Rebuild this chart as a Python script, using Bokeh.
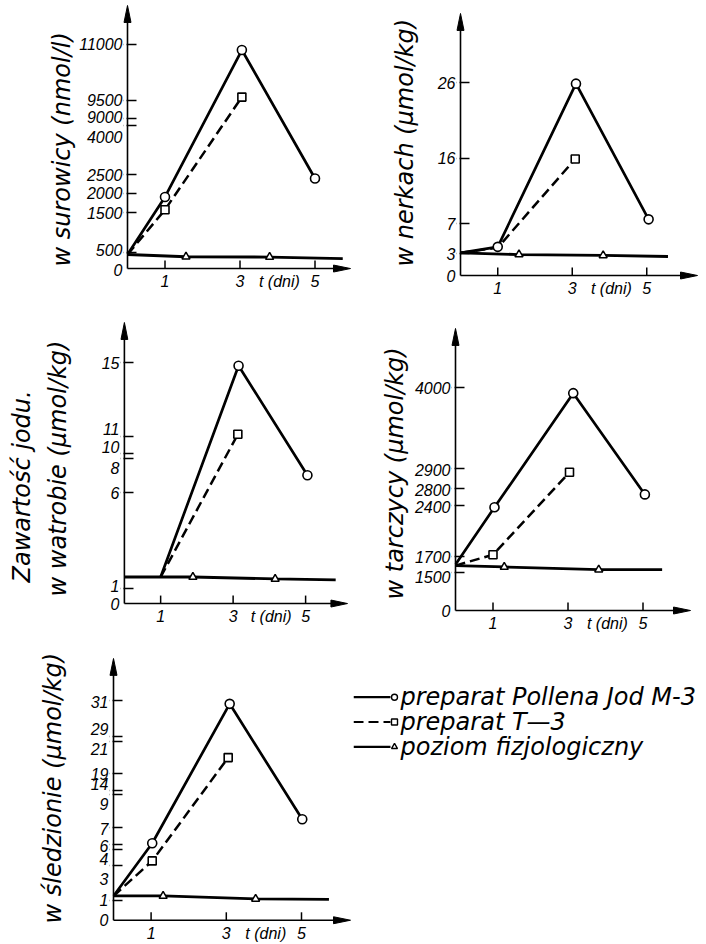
import numpy as np
from bokeh.plotting import figure
from bokeh.models import Range1d, FixedTicker, Title
from bokeh.layouts import row, column
from bokeh.core.properties import value
from bokeh.embed import file_html
from bokeh.resources import INLINE

# ---------------- data ----------------
x_ticks = [1, 3, 5]                       # t (dni)
x_title = "t (dni)"
x_title_pos = 4.05

# Panel 1: w surowicy (nmol/l)
p1_pol_t = [0, 1, 3.05, 5]
p1_pol_v = [440, 1900, 10850, 2400]
p1_t3_t = [0, 1, 3.05]
p1_t3_v = [440, 1570, 9600]
p1_ph_t = [0, 1.56, 3.79, 5.74]
p1_ph_v = [440, 370, 360, 310]
p1_ticks = [0, 500, 1500, 2000, 2500, 4000, 9000, 9500, 11000]

# Panel 2: w nerkach (umol/kg)
p2_pol_t = [0, 1, 3.1, 5.05]
p2_pol_v = [3.1, 3.9, 25.9, 7.6]
p2_t3_t = [0, 1, 3.08]
p2_t3_v = [3.1, 3.8, 15.9]
p2_ph_t = [0, 1.57, 3.83, 5.57]
p2_ph_v = [3.1, 2.87, 2.75, 2.6]
p2_ticks = [0, 3, 7, 16, 26]

# Panel 3: w watrobie (umol/kg)
p3_pol_t = [1, 3.15, 5.05]
p3_pol_v = [1.6, 14.8, 7.0]
p3_t3_t = [1, 3.13]
p3_t3_v = [1.6, 11.1]
p3_ph_t = [0, 1.89, 4.16, 5.83]
p3_ph_v = [1.6, 1.6, 1.5, 1.45]
p3_ticks = [0, 1, 6, 8, 10, 11, 15]

# Panel 4: w tarczycy (umol/kg)
p4_pol_t = [0, 1.04, 3.14, 5.05]
p4_pol_v = [1600, 2380, 3920, 2660]
p4_t3_t = [0, 1, 3.04]
p4_t3_v = [1585, 1727, 2880]
p4_ph_t = [0, 1.3, 3.82, 5.51]
p4_ph_v = [1585, 1567, 1532, 1532]
p4_ticks = [0, 1500, 1700, 2400, 2800, 2900, 4000]

# Panel 5: w sledzionie (umol/kg)
p5_pol_t = [0, 1.03, 3.09, 5.02]
p5_pol_v = [1.27, 6.05, 30.8, 7.5]
p5_t3_t = [0, 1.03, 3.05]
p5_t3_v = [1.27, 3.3, 20.0]
p5_ph_t = [0, 1.32, 3.78, 5.73]
p5_ph_v = [1.27, 1.27, 1.1, 1.07]
p5_ticks = [0, 1, 3, 4, 6, 7, 9, 14, 19, 21, 29, 31]

# which points of each series carry a marker
p1_marks = ([1, 2, 3], [1, 2], [1, 2])
p2_marks = ([1, 2, 3], [2], [1, 2])
p3_marks = ([1, 2], [1], [1, 2])
p4_marks = ([1, 2, 3], [1, 2], [1, 2])
p5_marks = ([1, 2, 3], [1, 2], [1, 2])

legend_labels = ["preparat Pollena Jod M-3", "preparat T\u20143", "poziom fizjologiczny"]

# ---------------- broken-axis layout (pixel rows of the drawn ticks / labels) ----------------
p1_mark_y = [269, 253, 212.7, 193.3, 175, 125, 118.3, 100.7, 44]
p1_label_y = [270, 250, 212.7, 193.3, 175, 137.3, 117.3, 100, 44]
p2_mark_y = [276, 254, 224, 158.3, 82.7]
p2_label_y = [276, 254, 224, 158.3, 82.7]
p3_mark_y = [604, 589, 492.3, 458.3, 453.3, 436, 361.7]
p3_label_y = [604, 586, 493.3, 468.3, 447.3, 429.3, 363.3]
p4_mark_y = [611, 572.5, 557, 506, 488.3, 468.3, 387]
p4_label_y = [611, 576.7, 556.7, 506.7, 490, 470, 388.3]
p5_mark_y = [921.7, 902, 866.7, 850.7, 845, 828.3, 795, 790.7, 774, 741.7, 736.7, 700]
p5_label_y = [921.7, 901.7, 879.3, 860, 846.7, 830, 804.3, 785, 775, 748.3, 728.3, 701.7]

ML = 4
NUM_FONT = "Liberation Sans"
TXT_FONT = "DejaVu Sans"

# frames of one row share top/bottom borders (ft / fb); tip = arrow tip row, ax_y = x-axis row
# titles: (text, standoff, offset); axis_label: (text, standoff)
G1 = dict(W=353, H=299, ax_x=126.7, right=350, ft=5, fb=280, tip=5, ax_y=269, ppd=37.5, ref_ax=269,
          titles=[("w surowicy (nmol/l)", 1.4, 13)], axis_label=None)
G2 = dict(W=353, H=299, ax_x=107.4, right=344, ft=5, fb=280, tip=13, ax_y=276, ppd=37.25, ref_ax=276,
          titles=[("w nerkach (\u03bcmol/kg)", 32, 13)], axis_label=None)
G3 = dict(W=353, H=335, ax_x=118, right=347, ft=23, fb=316, tip=23, ax_y=305, ppd=37.2, ref_ax=604,
          titles=[("Zawarto\u015b\u0107 jodu.", 10, 32)],
          axis_label=("w watrobie (\u03bcmol/kg)", 27))
G4 = dict(W=353, H=335, ax_x=102, right=337, ft=23, fb=316, tip=29, ax_y=312, ppd=37.5, ref_ax=611,
          titles=[("w tarczycy (\u03bcmol/kg)", 6, 15)], axis_label=None)
G5 = dict(W=353, H=310, ax_x=113, right=350, ft=24, fb=292, tip=24, ax_y=287.7, ppd=37.6, ref_ax=921.7,
          titles=[("w \u015bledzionie (\u03bcmol/kg)", 41, 1)], axis_label=None)


def make_panel(series, marks, ticks, mark_y, label_y, g):
    ppd = g["ppd"]
    bl = int(round(g["ax_x"] - ML))
    fw = int(round(g["right"])) - bl
    br = g["W"] - bl - fw
    bt, fb = g["ft"], g["fb"]
    bb = g["H"] - fb
    mb = fb - g["ax_y"]
    x0, x1 = -ML / ppd, (fw - ML) / ppd
    y0, y1 = -mb, g["ax_y"] - bt
    ytip = g["ax_y"] - g["tip"]
    p = figure(width=g["W"], height=g["H"], x_range=Range1d(x0, x1), y_range=Range1d(y0, y1),
               min_border_left=bl, min_border_right=br, min_border_top=bt, min_border_bottom=bb,
               toolbar_location=None, output_backend="svg", title=None)
    p.grid.visible = False
    p.outline_line_color = None
    ref_ax = g["ref_ax"]
    mark_px = [ref_ax - m for m in mark_y]
    lab_px = [int(round(ref_ax - m)) for m in label_y]

    def ypos(v):
        return np.interp(v, ticks, mark_px)

    yax = p.yaxis[0]
    yax.ticker = FixedTicker(ticks=lab_px, minor_ticks=[m for m in mark_px if m > 0.5])
    yax.major_label_overrides = {lp: str(v) for lp, v in zip(lab_px, ticks)}
    yax.major_tick_in = 0
    yax.major_tick_out = 0
    yax.minor_tick_in = ML + 9
    yax.minor_tick_out = 0
    yax.minor_tick_line_width = 1.5
    yax.minor_tick_line_color = "black"
    yax.major_label_standoff = 1
    if g["axis_label"]:
        yax.axis_label = g["axis_label"][0]
        yax.axis_label_standoff = g["axis_label"][1]
        yax.axis_label_text_font = TXT_FONT
        yax.axis_label_text_font_style = "italic"
        yax.axis_label_text_font_size = "24px"
        yax.axis_label_text_color = "black"
        yax.bounds = (0, ytip)

    xax = p.xaxis[0]
    xax.ticker = FixedTicker(ticks=x_ticks + [x_title_pos], minor_ticks=[])
    xax.major_label_overrides = {x_title_pos: x_title}
    xax.major_tick_in = 0
    xax.major_tick_out = 0
    xax.minor_tick_in = 0
    xax.minor_tick_out = 0
    xax.major_label_standoff = min(0, 4 - int(round(mb)))
    for ax in (xax, yax):
        ax.axis_line_color = None
        ax.major_label_text_font = NUM_FONT
        ax.major_label_text_font_style = "italic"
        ax.major_label_text_font_size = "16px"
        ax.major_label_text_color = "black"

    (pol_t, pol_v), (t3_t, t3_v), (ph_t, ph_v) = series
    pol_mk, t3_mk, ph_mk = marks
    ph_y = ypos(ph_v)
    t3_y = ypos(t3_v)
    pol_y = ypos(pol_v)
    p.line(ph_t, ph_y, line_width=2.8, line_color="black")
    p.line(t3_t, t3_y, line_width=2.5, line_color="black", line_dash="10 5")
    p.line(pol_t, pol_y, line_width=2.7, line_color="black")
    p.scatter([ph_t[i] for i in ph_mk], [ph_y[i] for i in ph_mk], marker="triangle", size=8,
              fill_color="white", line_color="black", line_width=1.5)
    p.scatter([t3_t[i] for i in t3_mk], [t3_y[i] for i in t3_mk], marker="square", size=8,
              fill_color="white", line_color="black", line_width=1.6)
    p.scatter([pol_t[i] for i in pol_mk], [pol_y[i] for i in pol_mk], marker="circle", size=9,
              fill_color="white", line_color="black", line_width=1.6)

    # axis lines with arrow heads (the y tick stubs left of the axis are covered)
    ah, hw = 17, 3.5
    p.quad(left=x0, right=-0.9 / ppd, bottom=-0.9, top=y1, fill_color="white", line_color=None, level="overlay")
    p.segment(x0=x_ticks, y0=[0] * len(x_ticks), x1=x_ticks, y1=[8] * len(x_ticks),
              line_width=1.5, line_color="black", level="overlay")
    p.line([0, 0], [0, ytip - ah + 2], line_width=1.6, line_color="black", level="overlay")
    p.line([0, x1 - (ah - 2) / ppd], [0, 0], line_width=1.6, line_color="black", level="overlay")
    p.patch([0, -hw / ppd, hw / ppd], [ytip, ytip - ah, ytip - ah], color="black", level="overlay")
    p.patch([x1, x1 - ah / ppd, x1 - ah / ppd], [0, -hw, hw], color="black", level="overlay")

    for txt, standoff, offset in g["titles"]:
        p.add_layout(Title(text=txt, align="left", offset=offset, standoff=standoff,
                           text_font=TXT_FONT, text_font_style="italic", text_font_size="24px",
                           text_color="black"), "left")
    return p


p1 = make_panel([(p1_pol_t, p1_pol_v), (p1_t3_t, p1_t3_v), (p1_ph_t, p1_ph_v)], p1_marks,
                p1_ticks, p1_mark_y, p1_label_y, G1)
p2 = make_panel([(p2_pol_t, p2_pol_v), (p2_t3_t, p2_t3_v), (p2_ph_t, p2_ph_v)], p2_marks,
                p2_ticks, p2_mark_y, p2_label_y, G2)
p3 = make_panel([(p3_pol_t, p3_pol_v), (p3_t3_t, p3_t3_v), (p3_ph_t, p3_ph_v)], p3_marks,
                p3_ticks, p3_mark_y, p3_label_y, G3)
p4 = make_panel([(p4_pol_t, p4_pol_v), (p4_t3_t, p4_t3_v), (p4_ph_t, p4_ph_v)], p4_marks,
                p4_ticks, p4_mark_y, p4_label_y, G4)
p5 = make_panel([(p5_pol_t, p5_pol_v), (p5_t3_t, p5_t3_v), (p5_ph_t, p5_ph_v)], p5_marks,
                p5_ticks, p5_mark_y, p5_label_y, G5)

# ---------------- legend (shares the frame rows of panel 5) ----------------
LW, LH = 353, 310
L_TOP, L_BOTTOM = G5["ft"], LH - G5["fb"]
L_FH = LH - L_TOP - L_BOTTOM
leg = figure(width=LW, height=LH, x_range=Range1d(0, LW), y_range=Range1d(L_FH, 0),
             min_border_left=0, min_border_right=0, min_border_top=L_TOP, min_border_bottom=L_BOTTOM,
             toolbar_location=None, output_backend="svg", title=None,
             x_axis_location=None, y_axis_location=None)
leg.grid.visible = False
leg.outline_line_color = None
row0, dy = 63 - L_TOP, 25
x_a, x_b, x_m, x_t = 0, 37, 41, 47
styles = [("solid", "circle"), ("10 5", "square"), ("solid", "triangle")]
for i, (lab, (dash, mk)) in enumerate(zip(legend_labels, styles)):
    yy = row0 + i * dy
    leg.line([x_a, x_b], [yy, yy], line_width=2.2, line_color="black", line_dash=dash)
    leg.scatter([x_m], [yy], marker=mk, size=6, fill_color="white", line_color="black", line_width=1.4)
leg.text(x=[x_t] * 3, y=[row0 + i * dy for i in range(3)], text=legend_labels,
         text_font=value(TXT_FONT), text_font_style="italic", text_font_size="24px",
         text_baseline="middle", text_align="left", text_color="black")

layout = column(row(p1, p2), row(p3, p4), row(p5, leg))
open("out.html", "w").write(file_html(layout, INLINE))
